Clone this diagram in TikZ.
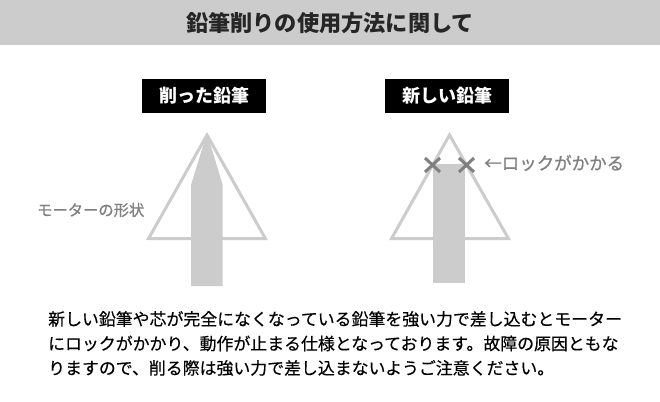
\documentclass[tikz,border=0pt]{standalone}
\usepackage{fontspec}
\setmainfont{Noto Sans CJK JP}
\newfontfamily\medfont[FakeBold=0.35]{Noto Sans CJK JP}
\newfontfamily\heavyfont[FakeBold=0.8]{Noto Sans CJK JP}
\definecolor{bar}{HTML}{CCCCCC}
\definecolor{txtg}{HTML}{808080}
\definecolor{tri}{HTML}{CCCCCC}
\tikzset{x=1pt,y=-1pt,
lab/.style={fill=black,text=white,font=\fontsize{18}{18}\selectfont\bfseries,minimum width=124pt,minimum height=34pt,inner sep=0pt},
para/.style={anchor=west,inner sep=0pt,font=\medfont\fontsize{16.9}{16.9}\selectfont,text=black}}
\begin{document}
\begin{tikzpicture}
\useasboundingbox (0,0) rectangle (660,401);
\fill[white] (0,0) rectangle (660,401);
\fill[bar] (0,0) rectangle (660,45);
\node[font=\fontsize{22.2}{22.2}\selectfont\bfseries,text=black!85] (title) at (330,23) {鉛筆削りの使用方法に関して};
\node[lab] (a) at (204,96) {削った鉛筆};
\node[lab] (b) at (447,96) {新しい鉛筆};
\draw[tri,line width=3pt] (207,135) -- (265.4,238.5) -- (148.6,238.5) -- cycle;
\fill[tri] (207,133) -- (222.7,185) -- (222.7,286) -- (191,286) -- (191,185) -- cycle;
\draw[tri,line width=3pt] (449.5,135) -- (508.4,238.5) -- (391.6,238.5) -- cycle;
\fill[tri] (433,164) rectangle (465,283);
\draw[txtg,line width=3pt] (425,158) -- (440,172) (425,172) -- (440,158);
\draw[txtg,line width=3pt] (459,158) -- (474,172) (459,172) -- (474,158);
\node[anchor=west,inner sep=0pt,text=txtg,font=\heavyfont\fontsize{17.5}{17.5}\selectfont] (lock) at (484,163) {←ロックがかかる};
\node[anchor=west,inner sep=0pt,text=txtg,font=\heavyfont\fontsize{15.3}{15.3}\selectfont] (motor) at (37,210) {モーターの形状};
\node[para] (l1) at (48,319) {新しい鉛筆や芯が完全になくなっている鉛筆を強い力で差し込むとモーター};
\node[para] (l2) at (48,343.5) {にロックがかかり、動作が止まる仕様となっております。故障の原因ともな};
\node[para] (l3) at (48,368) {りますので、削る際は強い力で差し込まないようご注意ください。};
\end{tikzpicture}
\end{document}
